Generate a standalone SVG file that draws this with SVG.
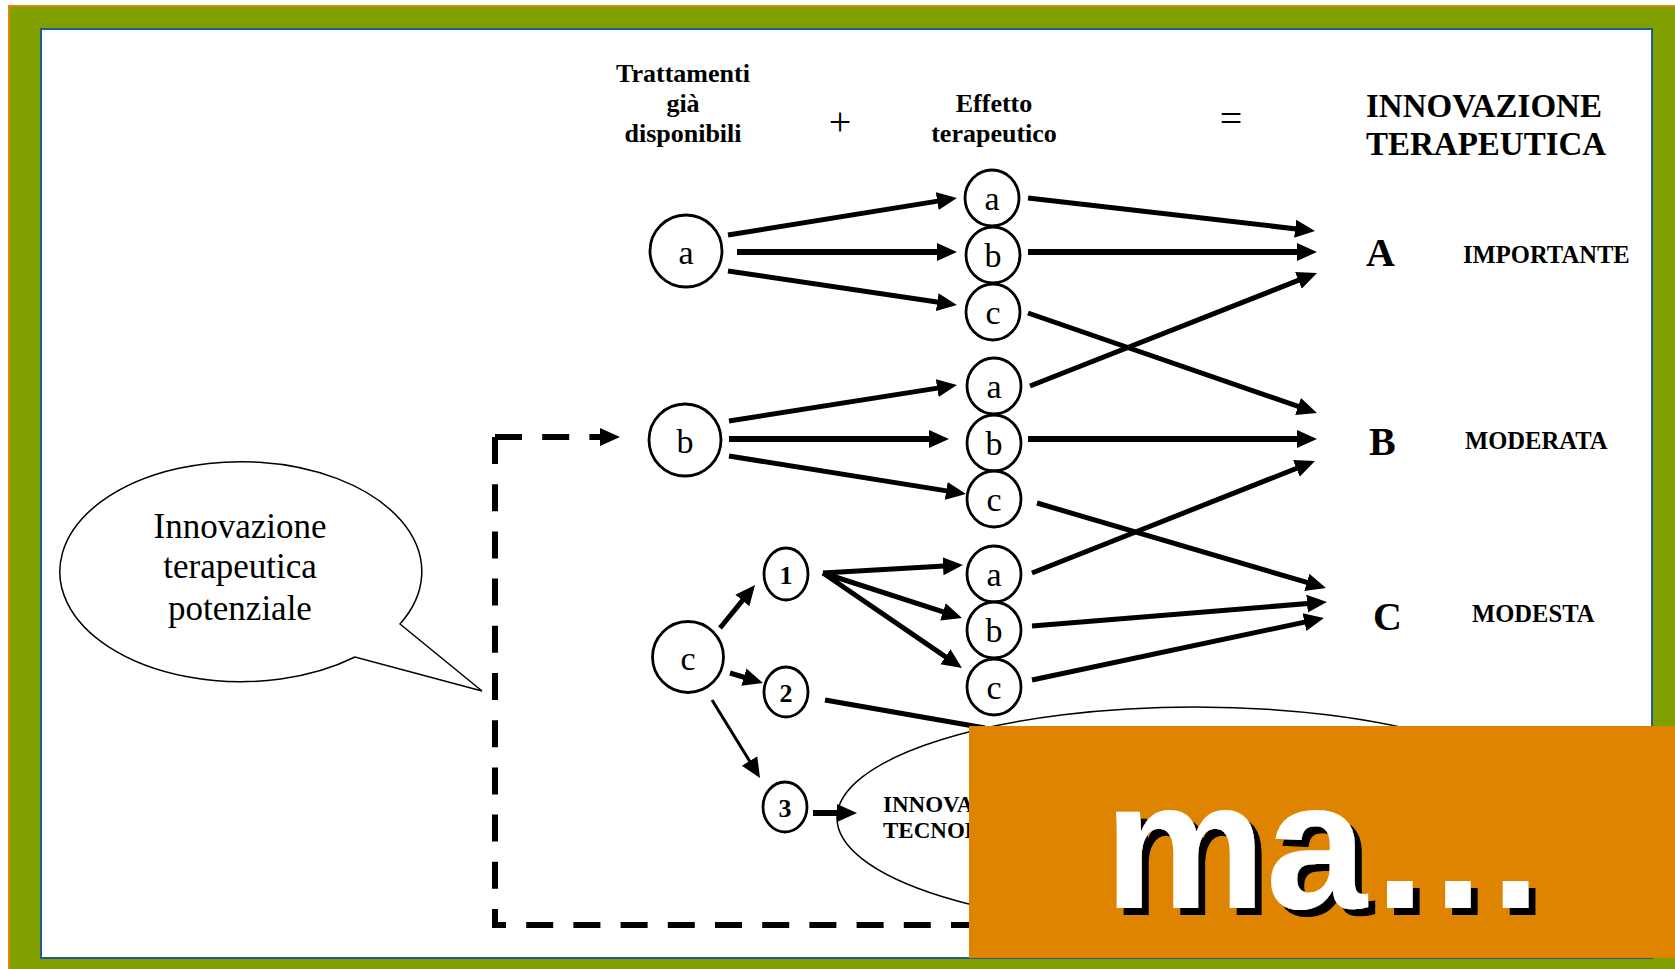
<svg xmlns="http://www.w3.org/2000/svg" width="1675" height="969" viewBox="0 0 1675 969">
  <style>
    .serif { font-family: "Liberation Serif", "Times New Roman", serif; fill: #000; }
    .hd { font-weight: bold; font-size: 26px; text-anchor: middle; }
    .big { font-weight: bold; font-size: 33px; }
    .op { font-size: 40px; text-anchor: middle; }
    .lt { font-size: 34px; text-anchor: middle; }
    .num { font-weight: bold; font-size: 26px; text-anchor: middle; }
    .res { font-weight: bold; font-size: 40px; }
    .lab { font-weight: bold; font-size: 24.6px; }
    .nd { fill: #fff; stroke: #000; stroke-width: 2.8; }
    .thin { fill: #fff; stroke: #000; stroke-width: 1.5; }
    .outline { fill: none; stroke: #000; stroke-width: 1.5; }
    .ln { fill: none; stroke: #000; stroke-width: 5; marker-end: url(#ah); }
    .lh { stroke-width: 6; }
    .lt3 { stroke-width: 3; }
    .dash { fill: none; stroke: #000; stroke-width: 6; stroke-dasharray: 27 20.2; }
    .bub { font-size: 35px; text-anchor: middle; }
  </style>
  <defs>
    <marker id="ah" markerUnits="userSpaceOnUse" markerWidth="20" markerHeight="20" viewBox="0 0 20 20" refX="10" refY="10" orient="auto">
      <path d="M0,1 L20,10 L0,19 Z" fill="#000" stroke="none"/>
    </marker>
    <filter id="shadow" x="-10%" y="-10%" width="130%" height="130%">
      <feDropShadow dx="7" dy="7" stdDeviation="0" flood-color="#000" flood-opacity="1"/>
    </filter>
  </defs>

  <!-- frame -->
  <rect x="0" y="0" width="1675" height="969" fill="#fff"/>
  <rect x="8" y="5" width="1667" height="964" fill="#E08600"/>
  <rect x="10" y="7" width="1665" height="962" fill="#80A000"/>
  <rect x="41" y="29" width="1611" height="929" fill="#fff" stroke="#1F5C99" stroke-width="2"/>

  <!-- column headings -->
  <g id="headings" class="serif">
    <text class="hd" x="683" y="82">Trattamenti</text>
    <text class="hd" x="683" y="112">già</text>
    <text class="hd" x="683" y="142">disponibili</text>
    <text class="op" x="840" y="135">+</text>
    <text class="hd" x="994" y="112">Effetto</text>
    <text class="hd" x="994" y="142">terapeutico</text>
    <text class="op" x="1231" y="132">=</text>
    <text class="big" x="1366" y="117">INNOVAZIONE</text>
    <text class="big" x="1366" y="155">TERAPEUTICA</text>
  </g>

  <!-- connectors -->
  <g id="connectors">
    <path class="ln" d="M728,235 L947.1,199.6"/>
    <path class="ln lh" d="M737,252 L947,252"/>
    <path class="ln" d="M728,271 L947.1,303.5"/>

    <path class="ln" d="M729,421 L947.1,386.6"/>
    <path class="ln lh" d="M729,439 L939,439"/>
    <path class="ln" d="M729,456 L956.1,492.4"/>

    <path class="ln" d="M720,628 L748.7,592.8"/>
    <path class="ln" d="M730,673 L753.4,680.1"/>
    <path class="ln lt3" d="M712,700 L754.8,769.5"/>

    <path class="ln" d="M823,573 L953,565.6"/>
    <path class="ln" d="M823,573 L952.5,614.9"/>
    <path class="ln" d="M823,573 L953.7,662.4"/>

    <path class="ln" d="M1028,198 L1305.1,229.9"/>
    <path class="ln lh" d="M1028,252 L1307,252"/>
    <path class="ln" d="M1028,313 L1307.5,409.7"/>
    <path class="ln" d="M1030,386 L1307.7,276.7"/>
    <path class="ln lh" d="M1028,439 L1307,439"/>
    <path class="ln" d="M1037,503 L1316.4,585.2"/>
    <path class="ln" d="M1032,573 L1305.7,464.7"/>
    <path class="ln" d="M1032,626 L1317,602.8"/>
    <path class="ln" d="M1032,680 L1314.2,620.1"/>

    <path class="ln lh" d="M813,813 L847,813"/>
    <path fill="none" stroke="#000" stroke-width="5" d="M825,700 L985,728"/>

    <!-- feedback loop -->
    <path class="dash" d="M495,437 L495,925 L1000,925"/>
    <path class="dash" d="M495,437 L610,437" marker-end="url(#ah)"/>
  </g>

  <!-- available treatments -->
  <g id="tr-a" class="serif"><circle class="nd" cx="686" cy="251" r="36"/><text class="lt" x="686" y="264">a</text></g>
  <g id="tr-b" class="serif"><circle class="nd" cx="685" cy="440" r="36"/><text class="lt" x="685" y="453">b</text></g>
  <g id="tr-c" class="serif"><circle class="nd" cx="688" cy="657" r="35.5"/><text class="lt" x="688" y="670">c</text></g>

  <!-- therapeutic effect, group of a -->
  <g id="ef-a-a" class="serif"><ellipse class="nd" cx="992" cy="198" rx="27" ry="28"/><text class="lt" x="992" y="210">a</text></g>
  <g id="ef-a-b" class="serif"><ellipse class="nd" cx="993" cy="255" rx="27" ry="28"/><text class="lt" x="993" y="267">b</text></g>
  <g id="ef-a-c" class="serif"><ellipse class="nd" cx="993" cy="312" rx="27" ry="28"/><text class="lt" x="993" y="324">c</text></g>

  <!-- therapeutic effect, group of b -->
  <g id="ef-b-a" class="serif"><ellipse class="nd" cx="994" cy="386" rx="27" ry="28"/><text class="lt" x="994" y="398">a</text></g>
  <g id="ef-b-b" class="serif"><ellipse class="nd" cx="994" cy="443" rx="27" ry="28"/><text class="lt" x="994" y="455">b</text></g>
  <g id="ef-b-c" class="serif"><ellipse class="nd" cx="994" cy="499" rx="27" ry="28"/><text class="lt" x="994" y="511">c</text></g>

  <!-- therapeutic effect, group of 1 -->
  <g id="ef-1-a" class="serif"><ellipse class="nd" cx="994" cy="574" rx="27" ry="28"/><text class="lt" x="994" y="586">a</text></g>
  <g id="ef-1-b" class="serif"><ellipse class="nd" cx="994" cy="630" rx="27" ry="28"/><text class="lt" x="994" y="642">b</text></g>
  <g id="ef-1-c" class="serif"><ellipse class="nd" cx="994" cy="687" rx="27" ry="28"/><text class="lt" x="994" y="699">c</text></g>

  <!-- sub-options of c -->
  <g id="opt-1" class="serif"><ellipse class="nd" cx="786" cy="574" rx="22" ry="26"/><text class="num" x="786" y="584">1</text></g>
  <g id="opt-2" class="serif"><ellipse class="nd" cx="786" cy="692" rx="22" ry="25"/><text class="num" x="786" y="702">2</text></g>
  <g id="opt-3" class="serif"><ellipse class="nd" cx="785" cy="807" rx="22" ry="25"/><text class="num" x="785" y="817">3</text></g>

  <!-- outcome levels -->
  <g id="out-A" class="serif"><text class="res" x="1366" y="266">A</text><text class="lab" x="1463" y="263">IMPORTANTE</text></g>
  <g id="out-B" class="serif"><text class="res" x="1369" y="455">B</text><text class="lab" x="1465" y="449">MODERATA</text></g>
  <g id="out-C" class="serif"><text class="res" x="1373" y="630">C</text><text class="lab" x="1472" y="622">MODESTA</text></g>

  <!-- technological innovation -->
  <g id="tecno" class="serif">
    <ellipse class="outline" cx="1195" cy="818" rx="358" ry="111"/>
    <text class="lab" x="883" y="812" style="font-size:23px">INNOVAZIONE</text>
    <text class="lab" x="883" y="838" style="font-size:23px">TECNOLOGICA</text>
  </g>

  <!-- speech balloon -->
  <g id="balloon" class="serif">
    <path class="thin" d="M400,624 L482,691 L355,657 A181,110 0 1 1 400,624 Z"/>
    <text class="bub" x="240" y="538">Innovazione</text>
    <text class="bub" x="240" y="578">terapeutica</text>
    <text class="bub" x="240" y="620">potenziale</text>
  </g>

  <!-- caption panel -->
  <g id="caption">
    <rect x="969" y="726" width="706" height="232" fill="#DF8400"/>
    <text x="1104" y="908" filter="url(#shadow)" style="font-family:'Liberation Sans',Arial,sans-serif;font-weight:bold;font-size:182px;fill:#fff">ma…</text>
  </g>
</svg>
